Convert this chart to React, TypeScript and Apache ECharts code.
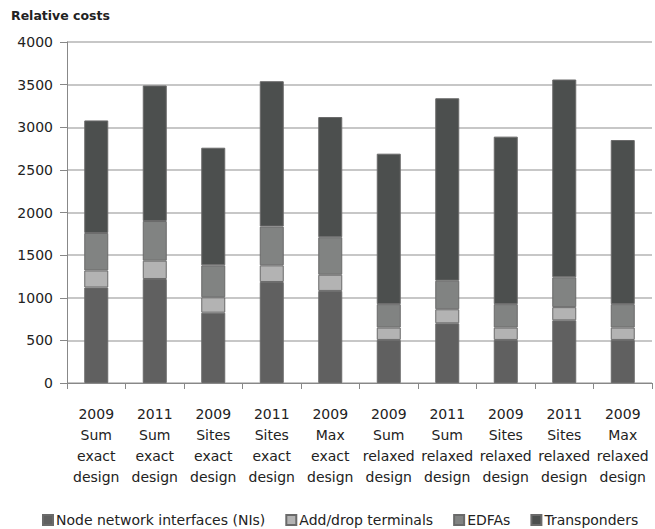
import React, { useEffect, useRef } from "react";
import * as echarts from "echarts";

const categories = [
  "2009\nSum\nexact\ndesign",
  "2011\nSum\nexact\ndesign",
  "2009\nSites\nexact\ndesign",
  "2011\nSites\nexact\ndesign",
  "2009\nMax\nexact\ndesign",
  "2009\nSum\nrelaxed\ndesign",
  "2011\nSum\nrelaxed\ndesign",
  "2009\nSites\nrelaxed\ndesign",
  "2011\nSites\nrelaxed\ndesign",
  "2009\nMax\nrelaxed\ndesign",
];

const nodeNIs = [1120, 1220, 825, 1185, 1080, 505, 700, 505, 735, 505];
const addDrop = [200, 215, 180, 195, 190, 145, 165, 145, 155, 145];
const edfas = [440, 465, 375, 455, 440, 275, 335, 275, 350, 275];
const transponders = [1320, 1590, 1380, 1705, 1410, 1765, 2140, 1965, 2320, 1925];

const yTicks = [0, 500, 1000, 1500, 2000, 2500, 3000, 3500, 4000];

const FONT = "'DejaVu Sans', 'Noto Sans', sans-serif";

export default function App() {
  const ref = useRef<HTMLDivElement>(null);
  useEffect(() => {
    if (!ref.current) return;
    const chart = echarts.init(ref.current, undefined, { renderer: "svg" });
    const mk = (name: string, data: number[], color: string) => ({
      name,
      type: "bar",
      stack: "total",
      data,
      barWidth: 24,
      itemStyle: { color, borderColor: "#6a6a6a", borderWidth: 1 },
    });
    chart.setOption({
      animation: false,
      textStyle: { fontFamily: FONT },
      title: {
        text: "Relative costs",
        left: 6,
        top: 4,
        textStyle: { fontFamily: FONT, fontSize: 12.5, fontWeight: "bold", color: "#222" },
      },
      grid: { left: 67, right: 3, top: 42, bottom: 146 },
      legend: {
        left: 37,
        top: 508,
        itemWidth: 10,
        itemHeight: 10,
        itemGap: 20,
        icon: "rect",
        textStyle: { fontFamily: FONT, fontSize: 14, color: "#222", padding: [0, 0, 0, -2] },
        data: ["Node network interfaces (NIs)", "Add/drop terminals", "EDFAs", "Transponders"],
      },
      xAxis: {
        type: "category",
        data: categories,
        axisLine: { lineStyle: { color: "#888", width: 1 } },
        axisTick: { show: true, length: 6, lineStyle: { color: "#888" } },
        axisLabel: {
          interval: 0,
          fontFamily: FONT,
          fontSize: 14,
          color: "#222",
          lineHeight: 21,
          margin: 20,
        },
      },
      yAxis: {
        type: "value",
        min: yTicks[0],
        max: yTicks[yTicks.length - 1],
        interval: 500,
        axisLine: { show: true, lineStyle: { color: "#888" } },
        axisTick: { show: true, length: 7, lineStyle: { color: "#888" } },
        splitLine: { lineStyle: { color: "#b4b4b4", width: 1.5 } },
        axisLabel: {
          fontFamily: FONT,
          fontSize: 14,
          color: "#222",
          margin: 14,
          formatter: (v: number) => String(v),
        },
      },
      series: [
        mk("Node network interfaces (NIs)", nodeNIs, "#606060"),
        mk("Add/drop terminals", addDrop, "#b3b3b3"),
        mk("EDFAs", edfas, "#818382"),
        mk("Transponders", transponders, "#4c4f4e"),
      ],
    });
    return () => chart.dispose();
  }, []);
  return (
    <div
      ref={ref}
      style={{ position: "absolute", left: 0, top: 0, width: 655, height: 529 }}
    />
  );
}
